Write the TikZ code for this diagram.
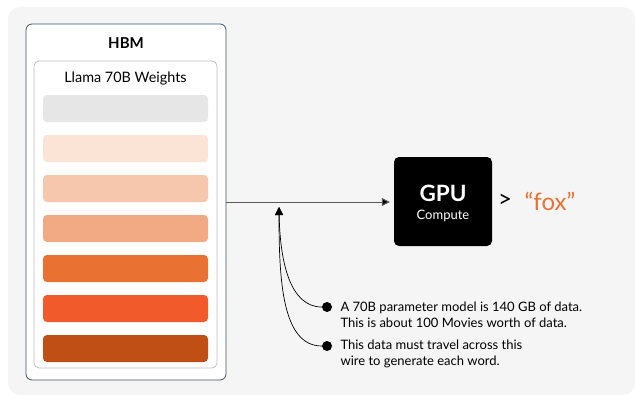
\documentclass[tikz,border=0pt]{standalone}
\usepackage{fontspec}
\setmainfont{Lato}
\usetikzlibrary{arrows.meta}

\definecolor{bggray}{HTML}{F5F5F5}
\definecolor{hbmedge}{HTML}{44546A}
\definecolor{wedge}{HTML}{BFBFBF}
\definecolor{wire}{HTML}{595959}
\definecolor{fox}{HTML}{E97132}
\definecolor{w0}{HTML}{E6E6E6}
\definecolor{w1}{HTML}{FBE3D6}
\definecolor{w2}{HTML}{F6C6AD}
\definecolor{w3}{HTML}{F2AA84}
\definecolor{w4}{HTML}{E97132}
\definecolor{w5}{HTML}{F15A2B}
\definecolor{w6}{HTML}{C04F15}

\tikzset{
hbmbox/.style={
  rectangle,
  rounded corners=6pt,
  draw=hbmedge,
  fill=white,
  line width=.8pt,
  minimum width=200pt,
  minimum height=356pt,
},
wbox/.style={
  rectangle,
  rounded corners=5pt,
  draw=wedge,
  fill=white,
  line width=.8pt,
  minimum width=183pt,
  minimum height=307pt,
},
bar/.style={
  rectangle,
  rounded corners=4pt,
  minimum width=165pt,
  minimum height=27pt,
  inner sep=0pt,
},
gpubox/.style={
  rectangle,
  rounded corners=5pt,
  fill=black,
  minimum width=98pt,
  minimum height=89pt,
},
wireline/.style={draw=wire, line width=1pt, -{Triangle[length=8pt,width=8pt,fill=black]}, shorten >=4pt},
pointer/.style={draw=black, line width=.7pt, -{Triangle[length=8pt,width=8pt]}},
dot/.style={circle, fill=black, minimum size=10pt, inner sep=0pt},
note/.style={anchor=west, align=left, font=\fontsize{13}{16}\selectfont},
}

\begin{document}
\begin{tikzpicture}[x=1pt,y=-1pt]
\useasboundingbox (0,0) rectangle (635,397);
% backdrop
\fill[bggray, rounded corners=12pt] (8,7) -- (635,7) -- (635,395) -- (8,395) -- cycle;

% memory side
\node[hbmbox] (hbm) at (126,202) {};
\node[font=\fontsize{15}{17}\selectfont\bfseries] (hbmlabel) at (126,43) {HBM};
\node[wbox] (weights) at (125.5,214.5) {};
\node[font=\fontsize{14.4}{16}\selectfont] (wlabel) at (125.5,79) {Llama 70B Weights};
\foreach \c [count=\i from 0] in {w0,w1,w2,w3,w4,w5,w6}
  \node[bar, fill=\c] (bar\i) at (125.5,108.5+40*\i) {};

% compute side
\node[gpubox] (gpu) at (443,201.5) {};
\node[text=white, font=\fontsize{22.5}{24}\selectfont\bfseries] (gpulabel) at (443,193) {GPU};
\node[text=white, font=\fontsize{13}{14}\selectfont] (computelabel) at (443,216) {Compute};
\node[font=\fontsize{24}{26}\selectfont] (gt) at (505,201) {>};
\node[font=\fontsize{24}{26}\selectfont, text=fox] (word) at (550,201) {“fox”};

% the wire
\draw[wireline] (hbm.east) -- (hbm.east -| gpu.west);
\coordinate (tip) at (279,207);

% notes
\node[dot] (b1) at (327,307) {};
\node[note] (n1) at (337,315) {A 70B parameter model is 140 GB of data.\\This is about 100 Movies worth of data.};
\node[dot] (b2) at (327,346) {};
\node[note] (n2) at (337,354) {This data must travel across this\\wire to generate each word.};

\draw[pointer] (b1.west) .. controls (290,307) and (280,262) .. (tip);
\draw[pointer] (b2.west) .. controls (282,346) and (279,280) .. (tip);
\end{tikzpicture}
\end{document}
